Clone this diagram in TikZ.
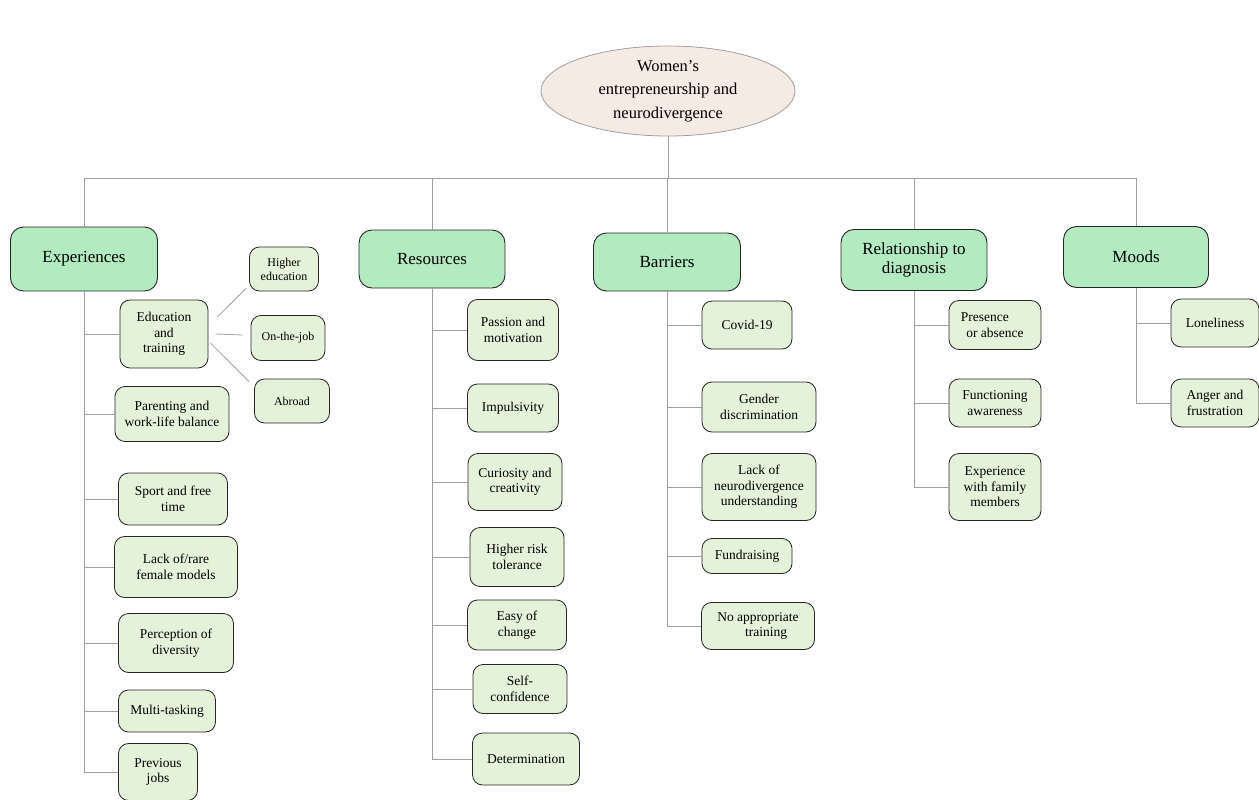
\documentclass[tikz,border=0pt]{standalone}
\usepackage{fontspec}
\setmainfont{Liberation Serif}
\usetikzlibrary{shapes.geometric}
\definecolor{topgreen}{HTML}{B3EBC0}
\definecolor{subgreen}{HTML}{E3F2D9}
\definecolor{rootfill}{HTML}{F6EAE4}
\definecolor{linegray}{HTML}{A0A0A0}
\tikzset{
  topbox/.style={draw=black!85, line width=0.9pt, rounded corners=13pt, fill=topgreen, inner sep=0pt,
    font=\fontsize{17}{19}\selectfont, align=center},
  subbox/.style={draw=black!85, line width=0.8pt, rounded corners=10pt, fill=subgreen, inner sep=0pt,
    font=\fontsize{13.5}{15.5}\selectfont, align=center},
  smallbox/.style={subbox, font=\fontsize{12}{14}\selectfont},
  conn/.style={draw=linegray, line width=0.8pt},
}
\begin{document}
\begin{tikzpicture}[x=1pt,y=-1pt]
\useasboundingbox (0,0) rectangle (1259,800);
% root
\node[ellipse, draw=linegray, line width=0.8pt, fill=rootfill, minimum width=254pt, minimum height=90pt, inner sep=0pt,
  align=center, font=\fontsize{16.5}{23.5}\selectfont] (root) at (668,91) {Women's\\entrepreneurship and\\neurodivergence};
% top boxes
\node[topbox, minimum width=147pt, minimum height=64pt] (exp) at (84,259) {Experiences};
\node[topbox, minimum width=146pt, minimum height=58pt] (res) at (432,259) {Resources};
\node[topbox, minimum width=147pt, minimum height=58pt] (bar) at (667,262) {Barriers};
\node[topbox, minimum width=146pt, minimum height=61pt] (rel) at (914,260) {Relationship to\\diagnosis};
\node[topbox, minimum width=145pt, minimum height=61pt] (moo) at (1136,257) {Moods};
\coordinate (bus) at (668,178);
% Experiences children
\node[subbox, minimum width=88pt, minimum height=68pt] (edu) at (164,334) {Education\\and\\training};
\node[smallbox, minimum width=69pt, minimum height=44pt] (hed) at (284,269) {Higher\\education};
\node[smallbox, minimum width=74pt, minimum height=45pt] (otj) at (288,338) {On-the-job};
\node[smallbox, minimum width=75pt, minimum height=44pt] (abr) at (292,401) {Abroad};
\node[subbox, minimum width=114pt, minimum height=55pt] (par) at (172,414) {Parenting and\\work-life balance};
\node[subbox, minimum width=109pt, minimum height=52pt] (spo) at (173,499) {Sport and free\\time};
\node[subbox, minimum width=123pt, minimum height=61pt] (lac) at (176,567) {Lack of/rare\\female models};
\node[subbox, minimum width=115pt, minimum height=59pt] (per) at (176,643) {Perception of\\diversity};
\node[subbox, minimum width=97pt, minimum height=42pt] (mul) at (167,711) {Multi-tasking};
\node[subbox, minimum width=79pt, minimum height=57pt] (pre) at (158,772) {Previous\\jobs};
% Resources children
\node[subbox, minimum width=91pt, minimum height=61pt] (pas) at (513,330) {Passion and\\motivation};
\node[subbox, minimum width=91pt, minimum height=48pt] (imp) at (513,408) {Impulsivity};
\node[subbox, minimum width=94pt, minimum height=57pt] (cur) at (515,482) {Curiosity and\\creativity};
\node[subbox, minimum width=94pt, minimum height=59pt] (hri) at (517,557) {Higher risk\\tolerance};
\node[subbox, minimum width=99pt, minimum height=50pt] (eas) at (517,625) {Easy of\\change};
\node[subbox, minimum width=94pt, minimum height=49pt] (sel) at (520,689) {Self-\\confidence};
\node[subbox, minimum width=107pt, minimum height=52pt] (det) at (526,759) {Determination};
% Barriers children
\node[subbox, minimum width=90pt, minimum height=48pt] (cov) at (747,325) {Covid-19};
\node[subbox, minimum width=114pt, minimum height=50pt] (gen) at (759,407) {Gender\\discrimination};
\node[subbox, minimum width=114pt, minimum height=67pt] (lnd) at (759,487) {Lack of\\neurodivergence\\understanding};
\node[subbox, minimum width=90pt, minimum height=35pt] (fun) at (747,556) {Fundraising};
\node[subbox, minimum width=113pt, minimum height=47pt] (noa) at (758,626) {No appropriate\\\hspace*{1.2em}training};
% Relationship children
\node[subbox, minimum width=92pt, minimum height=49pt] (pra) at (995,325) {Presence\hspace*{1.5em}\\or absence};
\node[subbox, minimum width=92pt, minimum height=48pt] (fua) at (995,403) {Functioning\\awareness};
\node[subbox, minimum width=92pt, minimum height=67pt] (efm) at (995,487) {Experience\\with family\\members};
% Moods children
\node[subbox, minimum width=88pt, minimum height=48pt] (lon) at (1215,323) {Loneliness};
\node[subbox, minimum width=88pt, minimum height=48pt] (ang) at (1215,403) {Anger and\\frustration};
% connectors
\draw[conn] (root.south) -- (root.south |- bus);
\draw[conn] (exp.north) -- (exp.north |- bus) -- (moo.north |- bus) -- (moo.north);
\foreach \t in {res,bar,rel} \draw[conn] (\t.north) -- (\t.north |- bus);
\foreach \c in {edu,par,spo,lac,per,mul,pre} \draw[conn] (exp) |- (\c);
\foreach \c in {pas,imp,cur,hri,eas,sel,det} \draw[conn] (res) |- (\c);
\foreach \c in {cov,gen,lnd,fun,noa} \draw[conn] (bar) |- (\c);
\foreach \c in {pra,fua,efm} \draw[conn] (rel) |- (\c);
\foreach \c in {lon,ang} \draw[conn] (moo) |- (\c);
\draw[conn] ([xshift=9pt,yshift=17pt]edu.east) -- ([xshift=-3pt,yshift=3pt]hed.south west);
\draw[conn] ([xshift=7pt]edu.east) -- ([xshift=-8pt,yshift=3pt]otj.west);
\draw[conn] ([xshift=2pt,yshift=-9pt]edu.east) -- ([xshift=-5pt,yshift=-3pt]abr.north west);
\end{tikzpicture}
\end{document}
